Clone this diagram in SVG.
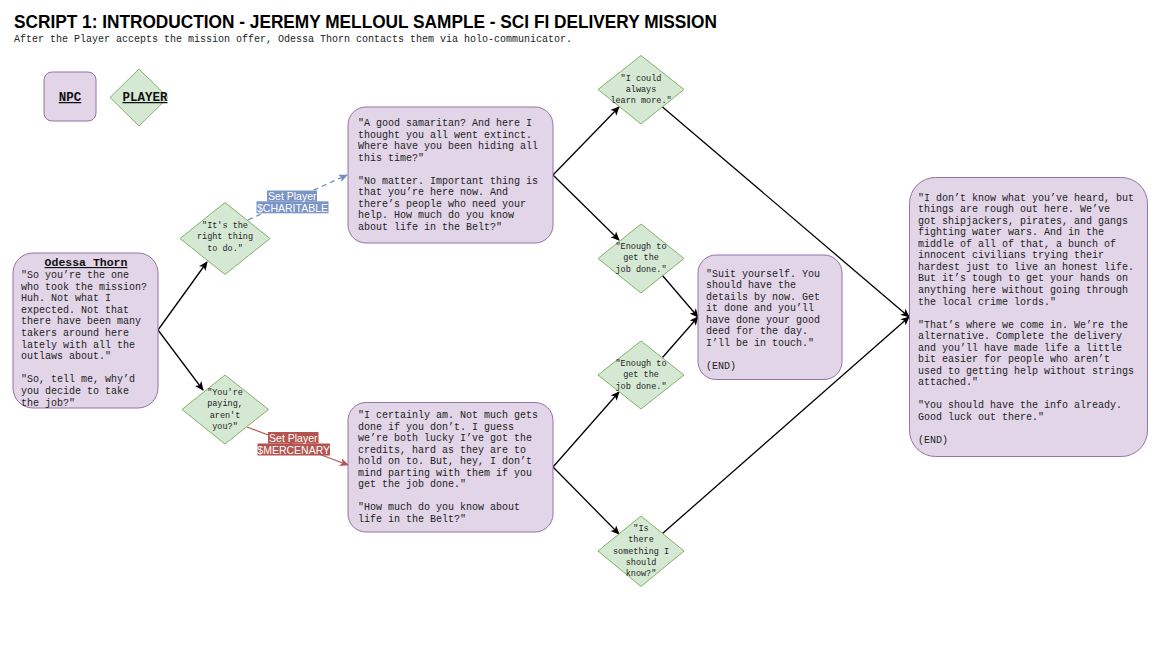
<svg xmlns="http://www.w3.org/2000/svg" width="1152" height="649" viewBox="0 0 1152 649">
<defs>
<style>
.npc{fill:#e1d5e7;stroke:#9673a6;stroke-width:1}
.pl{fill:#d5e8d4;stroke:#82b366;stroke-width:1}
.t{font-family:"Liberation Mono","Courier New",monospace;font-size:10px;fill:#222}
.d{font-family:"Liberation Mono","Courier New",monospace;font-size:8.5px;fill:#222;text-anchor:middle}
.hd{font-family:"Liberation Mono","Courier New",monospace;font-weight:bold;text-decoration:underline;fill:#111;text-anchor:middle}
.ln{fill:none;stroke:#000;stroke-width:1.3}
.lb{font-family:"Liberation Sans",Arial,sans-serif;font-size:10.5px;fill:#fff;text-anchor:middle}
</style>
<marker id="ab" viewBox="0 0 10 10" refX="9" refY="5" markerWidth="9" markerHeight="9" markerUnits="userSpaceOnUse" orient="auto"><path d="M0,0.5 L10,5 L0,9.5 L2.5,5 Z" fill="#000"/></marker>
<marker id="abl" viewBox="0 0 10 10" refX="9" refY="5" markerWidth="9" markerHeight="9" markerUnits="userSpaceOnUse" orient="auto"><path d="M0,0.5 L10,5 L0,9.5 L2.5,5 Z" fill="#6c8ebf"/></marker>
<marker id="ar" viewBox="0 0 10 10" refX="9" refY="5" markerWidth="9" markerHeight="9" markerUnits="userSpaceOnUse" orient="auto"><path d="M0,0.5 L10,5 L0,9.5 L2.5,5 Z" fill="#b85450"/></marker>
</defs>
<rect width="1152" height="649" fill="#fff"/>
<g id="title">
<text x="14" y="28" font-family="'Liberation Sans',Arial,sans-serif" font-weight="bold" font-size="18" textLength="703" lengthAdjust="spacingAndGlyphs" fill="#000">SCRIPT 1: INTRODUCTION - JEREMY MELLOUL SAMPLE - SCI FI DELIVERY MISSION</text>
<text x="14" y="42" font-family="'Liberation Mono','Courier New',monospace" font-size="10" fill="#222">After the Player accepts the mission offer, Odessa Thorn contacts them via holo-communicator.</text>
</g>
<g id="legend-npc">
<rect class="npc" x="44" y="72" width="52" height="49" rx="8"/>
<text class="hd" x="70" y="101" font-size="12.5">NPC</text>
</g>
<g id="legend-player">
<polygon class="pl" points="139,69 168,97.5 139,126 110,97.5"/>
<text class="hd" x="145" y="101" font-size="12.5">PLAYER</text>
</g>
<g id="connectors">
<line class="ln" x1="158" y1="330" x2="207" y2="262" marker-end="url(#ab)"/>
<line class="ln" x1="158" y1="330" x2="203" y2="390" marker-end="url(#ab)"/>
<line x1="248" y1="220" x2="347" y2="175" stroke="#6c8ebf" stroke-width="1.3" stroke-dasharray="5,4" marker-end="url(#abl)"/>
<line x1="247" y1="427" x2="348" y2="465" stroke="#b85450" stroke-width="1.3" marker-end="url(#ar)"/>
<line class="ln" x1="553" y1="175" x2="619" y2="107" marker-end="url(#ab)"/>
<line class="ln" x1="553" y1="175" x2="619" y2="240" marker-end="url(#ab)"/>
<line class="ln" x1="553" y1="467" x2="619" y2="392" marker-end="url(#ab)"/>
<line class="ln" x1="553" y1="467" x2="619" y2="534" marker-end="url(#ab)"/>
<line class="ln" x1="662.5" y1="275.5" x2="698" y2="317" marker-end="url(#ab)"/>
<line class="ln" x1="662.5" y1="357.5" x2="698" y2="317" marker-end="url(#ab)"/>
<line class="ln" x1="662.5" y1="107" x2="909" y2="317" marker-end="url(#ab)"/>
<line class="ln" x1="662.5" y1="533.5" x2="909" y2="317" marker-end="url(#ab)"/>
<g id="label-charitable">
<rect x="267" y="190.5" width="50" height="10.8" fill="#7a94c6"/>
<rect x="256.5" y="201.3" width="72" height="12" fill="#7a94c6"/>
<text class="lb" x="292.3" y="199.5">Set Player</text>
<text class="lb" x="292.5" y="211.5">$CHARITABLE</text>
</g>
<g id="label-mercenary">
<rect x="268" y="432" width="50.5" height="11.5" fill="#b35450"/>
<rect x="257.5" y="443.5" width="72.5" height="12" fill="#b35450"/>
<text class="lb" x="293.3" y="441.5">Set Player</text>
<text class="lb" x="293.7" y="453.5">$MERCENARY</text>
</g>
</g>
<g id="odessa">
<rect class="npc" x="13" y="253" width="145" height="155" rx="20"/>
<text class="hd" x="86" y="266" font-size="11.5">Odessa Thorn</text>
<text class="t">
<tspan x="21" y="278">"So you’re the one</tspan>
<tspan x="21" y="289.6">who took the mission?</tspan>
<tspan x="21" y="301.2">Huh. Not what I</tspan>
<tspan x="21" y="312.8">expected. Not that</tspan>
<tspan x="21" y="324.4">there have been many</tspan>
<tspan x="21" y="336">takers around here</tspan>
<tspan x="21" y="347.6">lately with all the</tspan>
<tspan x="21" y="359.2">outlaws about."</tspan>
<tspan x="21" y="382.4">"So, tell me, why’d</tspan>
<tspan x="21" y="394">you decide to take</tspan>
<tspan x="21" y="405.6">the job?"</tspan>
</text>
</g>
<g id="choice-right-thing">
<polygon class="pl" points="225,202.5 270,238.5 225,274.5 180,238.5"/>
<text class="d"><tspan x="225" y="227.5">"It's the</tspan><tspan x="225" y="239">right thing</tspan><tspan x="225" y="250.5">to do."</tspan></text>
</g>
<g id="choice-paying">
<polygon class="pl" points="225,375 268.5,409.5 225,444 182,409.5"/>
<text class="d"><tspan x="225" y="394.5">"You're</tspan><tspan x="225" y="406">paying,</tspan><tspan x="225" y="417.5">aren't</tspan><tspan x="225" y="429">you?"</tspan></text>
</g>
<g id="reply-samaritan">
<rect class="npc" x="348" y="107" width="205" height="136" rx="18"/>
<text class="t">
<tspan x="358" y="126">"A good samaritan? And here I</tspan>
<tspan x="358" y="137.5">thought you all went extinct.</tspan>
<tspan x="358" y="149">Where have you been hiding all</tspan>
<tspan x="358" y="160.5">this time?"</tspan>
<tspan x="358" y="183.5">"No matter. Important thing is</tspan>
<tspan x="358" y="195">that you’re here now. And</tspan>
<tspan x="358" y="206.5">there’s people who need your</tspan>
<tspan x="358" y="218">help. How much do you know</tspan>
<tspan x="358" y="229.5">about life in the Belt?"</tspan>
</text>
</g>
<g id="reply-certainly">
<rect class="npc" x="348" y="402.5" width="205" height="129.5" rx="18"/>
<text class="t">
<tspan x="358" y="418">"I certainly am. Not much gets</tspan>
<tspan x="358" y="429.5">done if you don’t. I guess</tspan>
<tspan x="358" y="441">we’re both lucky I’ve got the</tspan>
<tspan x="358" y="452.5">credits, hard as they are to</tspan>
<tspan x="358" y="464">hold on to. But, hey, I don’t</tspan>
<tspan x="358" y="475.5">mind parting with them if you</tspan>
<tspan x="358" y="487">get the job done."</tspan>
<tspan x="358" y="510">"How much do you know about</tspan>
<tspan x="358" y="521.5">life in the Belt?"</tspan>
</text>
</g>
<g id="choice-learn-more">
<polygon class="pl" points="641,55.5 684,89.5 641,124 598,89.5"/>
<text class="d"><tspan x="641" y="80.5">"I could</tspan><tspan x="641" y="91.5">always</tspan><tspan x="641" y="102.5">learn more."</tspan></text>
</g>
<g id="choice-enough-1">
<polygon class="pl" points="641,224 684,258.5 641,293 598,258.5"/>
<text class="d"><tspan x="641" y="248.5">"Enough to</tspan><tspan x="641" y="260">get the</tspan><tspan x="641" y="271.5">job done."</tspan></text>
</g>
<g id="choice-enough-2">
<polygon class="pl" points="641,341 684,375 641,409 598,375"/>
<text class="d"><tspan x="641" y="365.5">"Enough to</tspan><tspan x="641" y="377">get the</tspan><tspan x="641" y="388.5">job done."</tspan></text>
</g>
<g id="choice-something">
<polygon class="pl" points="641,516 684,551 641,586.5 598,551"/>
<text class="d"><tspan x="641" y="530.5">"Is</tspan><tspan x="641" y="541.5">there</tspan><tspan x="641" y="553.5">something I</tspan><tspan x="641" y="564.5">should</tspan><tspan x="641" y="575.5">know?"</tspan></text>
</g>
<g id="reply-suit-yourself">
<rect class="npc" x="698" y="255" width="144" height="124.5" rx="18"/>
<text class="t">
<tspan x="706" y="276.5">"Suit yourself. You</tspan>
<tspan x="706" y="288">should have the</tspan>
<tspan x="706" y="299.5">details by now. Get</tspan>
<tspan x="706" y="311">it done and you’ll</tspan>
<tspan x="706" y="322.5">have done your good</tspan>
<tspan x="706" y="334">deed for the day.</tspan>
<tspan x="706" y="345.5">I’ll be in touch."</tspan>
<tspan x="706" y="368.5">(END)</tspan>
</text>
</g>
<g id="reply-belt">
<rect class="npc" x="909.5" y="177.5" width="238" height="279" rx="26"/>
<text class="t">
<tspan x="918" y="200.5">"I don’t know what you’ve heard, but</tspan>
<tspan x="918" y="212">things are rough out here. We’ve</tspan>
<tspan x="918" y="223.6">got shipjackers, pirates, and gangs</tspan>
<tspan x="918" y="235.1">fighting water wars. And in the</tspan>
<tspan x="918" y="246.7">middle of all of that, a bunch of</tspan>
<tspan x="918" y="258.2">innocent civilians trying their</tspan>
<tspan x="918" y="269.8">hardest just to live an honest life.</tspan>
<tspan x="918" y="281.3">But it’s tough to get your hands on</tspan>
<tspan x="918" y="292.9">anything here without going through</tspan>
<tspan x="918" y="304.5">the local crime lords."</tspan>
<tspan x="918" y="327.6">"That’s where we come in. We’re the</tspan>
<tspan x="918" y="339.1">alternative. Complete the delivery</tspan>
<tspan x="918" y="350.7">and you’ll have made life a little</tspan>
<tspan x="918" y="362.2">bit easier for people who aren’t</tspan>
<tspan x="918" y="373.8">used to getting help without strings</tspan>
<tspan x="918" y="385.3">attached."</tspan>
<tspan x="918" y="408.4">"You should have the info already.</tspan>
<tspan x="918" y="420">Good luck out there."</tspan>
<tspan x="918" y="443.1">(END)</tspan>
</text>
</g>
</svg>
